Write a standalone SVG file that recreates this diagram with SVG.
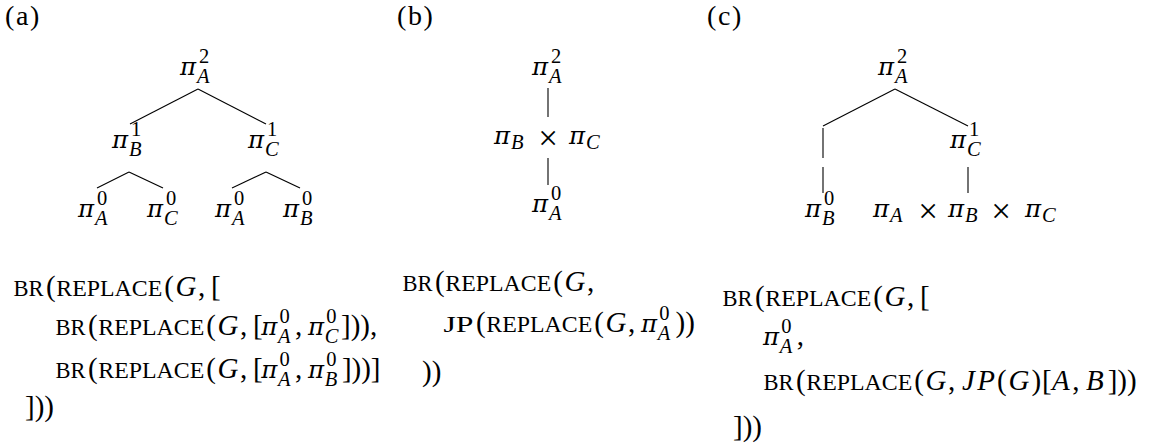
<svg xmlns="http://www.w3.org/2000/svg" width="1149" height="448" viewBox="0 0 1149 448">
<style>
  text { fill: #000; }
  .rm { font-family: "Liberation Serif", serif; font-size: 29px; }
  .lbl { font-family: "Liberation Serif", serif; font-size: 28px; letter-spacing: 1.6px; }
  .it { font-family: "Liberation Serif", serif; font-style: italic; font-size: 29px; }
  .pi { font-family: "DejaVu Serif", serif; font-style: italic; font-size: 24.5px; }
  .sup { font-family: "Liberation Serif", serif; font-size: 20.5px; }
  .sub { font-family: "Liberation Serif", serif; font-style: italic; font-size: 20.5px; }
  .tt { font-family: "Liberation Serif", serif; font-size: 24px; }
  .x { font-family: "Liberation Serif", serif; font-size: 35px; text-anchor: middle; }
  .edge { stroke: #000; stroke-width: 1.1; fill: none; }
</style>
<rect width="1149" height="448" fill="#fff"/>

<!-- panel labels -->
<text class="lbl" x="5" y="25">(a)</text>
<text class="lbl" x="397" y="25">(b)</text>
<text class="lbl" x="707" y="25">(c)</text>

<!-- connectors -->
<g id="connectors" class="edge">
  <line x1="198" y1="89" x2="130" y2="124"/>
  <line x1="198" y1="89" x2="266" y2="124"/>
  <line x1="129" y1="172" x2="97" y2="188"/>
  <line x1="129" y1="172" x2="163" y2="188"/>
  <line x1="266" y1="172" x2="232" y2="188"/>
  <line x1="266" y1="172" x2="300" y2="188"/>
  <line x1="548" y1="88" x2="548" y2="117"/>
  <line x1="548" y1="158" x2="548" y2="185"/>
  <line x1="895" y1="89" x2="823" y2="126"/>
  <line x1="895" y1="89" x2="968" y2="126"/>
  <line x1="823" y1="128" x2="823" y2="158"/>
  <line x1="823" y1="167" x2="823" y2="193"/>
  <line x1="968" y1="167" x2="968" y2="193"/>
</g>

<!-- tree (a) -->
<g id="a-root"><text class="pi" x="180" y="75">π</text><text class="sup" x="199" y="62.5">2</text><text class="sub" x="197" y="82.5">A</text></g>
<g id="a-B1"><text class="pi" x="112" y="148">π</text><text class="sup" x="131" y="135.5">1</text><text class="sub" x="129" y="155.5">B</text></g>
<g id="a-C1"><text class="pi" x="248" y="148">π</text><text class="sup" x="267" y="135.5">1</text><text class="sub" x="265" y="155.5">C</text></g>
<g id="a-A0-1"><text class="pi" x="78" y="217">π</text><text class="sup" x="97" y="204.5">0</text><text class="sub" x="95" y="224.5">A</text></g>
<g id="a-C0"><text class="pi" x="147" y="217">π</text><text class="sup" x="166" y="204.5">0</text><text class="sub" x="164" y="224.5">C</text></g>
<g id="a-A0-2"><text class="pi" x="215" y="217">π</text><text class="sup" x="234" y="204.5">0</text><text class="sub" x="232" y="224.5">A</text></g>
<g id="a-B0"><text class="pi" x="283" y="217">π</text><text class="sup" x="302" y="204.5">0</text><text class="sub" x="300" y="224.5">B</text></g>

<!-- tree (b) -->
<g id="b-root"><text class="pi" x="532" y="75">π</text><text class="sup" x="551" y="62.5">2</text><text class="sub" x="549" y="82.5">A</text></g>
<g id="b-mid"><text class="pi" x="494" y="144">π</text><text class="sub" x="511" y="149">B</text><text class="x" x="548" y="150">×</text><text class="pi" x="569" y="144">π</text><text class="sub" x="586" y="149">C</text></g>
<g id="b-leaf"><text class="pi" x="532" y="212">π</text><text class="sup" x="551" y="199.5">0</text><text class="sub" x="549" y="219.5">A</text></g>

<!-- tree (c) -->
<g id="c-root"><text class="pi" x="878" y="75">π</text><text class="sup" x="897" y="62.5">2</text><text class="sub" x="895" y="82.5">A</text></g>
<g id="c-C1"><text class="pi" x="950" y="148">π</text><text class="sup" x="969" y="135.5">1</text><text class="sub" x="967" y="155.5">C</text></g>
<g id="c-B0"><text class="pi" x="805" y="217">π</text><text class="sup" x="824" y="204.5">0</text><text class="sub" x="822" y="224.5">B</text></g>
<g id="c-prod"><text class="pi" x="873" y="217">π</text><text class="sub" x="890" y="222">A</text><text class="x" x="928" y="223">×</text><text class="pi" x="948" y="217">π</text><text class="sub" x="965" y="222">B</text><text class="x" x="1001" y="223">×</text><text class="pi" x="1025" y="217">π</text><text class="sub" x="1042" y="222">C</text></g>

<!-- code (a) -->
<g id="a-code">
  <g id="a-line1">
    <text class="tt" x="13.5" y="296" textLength="30" lengthAdjust="spacingAndGlyphs">BR</text>
    <text class="rm" x="46" y="296">(</text>
    <text class="tt" x="56.3" y="296" textLength="106" lengthAdjust="spacingAndGlyphs">REPLACE</text>
    <text class="rm" x="164.2" y="296">(</text>
    <text class="it" x="175.5" y="296">G</text>
    <text class="rm" x="197.9" y="296">,</text>
    <text class="rm" x="211" y="296">[</text>
  </g>
  <g id="a-line2">
    <text class="tt" x="55.5" y="335" textLength="30" lengthAdjust="spacingAndGlyphs">BR</text>
    <text class="rm" x="88" y="335">(</text>
    <text class="tt" x="98.3" y="335" textLength="106" lengthAdjust="spacingAndGlyphs">REPLACE</text>
    <text class="rm" x="206.2" y="335">(</text>
    <text class="it" x="217.5" y="335">G</text>
    <text class="rm" x="239.9" y="335">,</text>
    <text class="rm" x="253" y="335">[</text>
    <text class="pi" x="261.2" y="335">π</text><text class="sup" x="279.5" y="322.5">0</text><text class="sub" x="278" y="342.5">A</text>
    <text class="rm" x="294.9" y="335">,</text>
    <text class="pi" x="308" y="335">π</text><text class="sup" x="326.3" y="322.5">0</text><text class="sub" x="324.8" y="342.5">C</text>
    <text class="rm" x="341" y="335">])),</text>
  </g>
  <g id="a-line3">
    <text class="tt" x="55.5" y="378" textLength="30" lengthAdjust="spacingAndGlyphs">BR</text>
    <text class="rm" x="88" y="378">(</text>
    <text class="tt" x="98.3" y="378" textLength="106" lengthAdjust="spacingAndGlyphs">REPLACE</text>
    <text class="rm" x="206.2" y="378">(</text>
    <text class="it" x="217.5" y="378">G</text>
    <text class="rm" x="239.9" y="378">,</text>
    <text class="rm" x="253" y="378">[</text>
    <text class="pi" x="261.2" y="378">π</text><text class="sup" x="279.5" y="365.5">0</text><text class="sub" x="278" y="385.5">A</text>
    <text class="rm" x="294.9" y="378">,</text>
    <text class="pi" x="308" y="378">π</text><text class="sup" x="326.3" y="365.5">0</text><text class="sub" x="324.8" y="385.5">B</text>
    <text class="rm" x="341.9" y="378">]))]</text>
  </g>
  <text class="rm" x="25" y="416">]))</text>
</g>

<!-- code (b) -->
<g id="b-code">
  <g id="b-line1">
    <text class="tt" x="402.5" y="291" textLength="30" lengthAdjust="spacingAndGlyphs">BR</text>
    <text class="rm" x="435" y="291">(</text>
    <text class="tt" x="445.3" y="291" textLength="106" lengthAdjust="spacingAndGlyphs">REPLACE</text>
    <text class="rm" x="553.2" y="291">(</text>
    <text class="it" x="564.5" y="291">G</text>
    <text class="rm" x="586.9" y="291">,</text>
  </g>
  <g id="b-line2">
    <text class="tt" x="443.5" y="332" textLength="30" lengthAdjust="spacingAndGlyphs">JP</text>
    <text class="rm" x="476" y="332">(</text>
    <text class="tt" x="486.3" y="332" textLength="106" lengthAdjust="spacingAndGlyphs">REPLACE</text>
    <text class="rm" x="594.2" y="332">(</text>
    <text class="it" x="605.5" y="332">G</text>
    <text class="rm" x="627.9" y="332">,</text>
    <text class="pi" x="641" y="332">π</text><text class="sup" x="659.3" y="319.5">0</text><text class="sub" x="657.8" y="339.5">A</text>
    <text class="rm" x="675.5" y="332">))</text>
  </g>
  <text class="rm" x="422" y="381">))</text>
</g>

<!-- code (c) -->
<g id="c-code">
  <g id="c-line1">
    <text class="tt" x="722.5" y="306" textLength="30" lengthAdjust="spacingAndGlyphs">BR</text>
    <text class="rm" x="755" y="306">(</text>
    <text class="tt" x="765.3" y="306" textLength="106" lengthAdjust="spacingAndGlyphs">REPLACE</text>
    <text class="rm" x="873.2" y="306">(</text>
    <text class="it" x="884.5" y="306">G</text>
    <text class="rm" x="906.9" y="306">,</text>
    <text class="rm" x="920" y="306">[</text>
  </g>
  <g id="c-line2">
    <text class="pi" x="763" y="345">π</text><text class="sup" x="781.3" y="332.5">0</text><text class="sub" x="779.8" y="352.5">A</text>
    <text class="rm" x="796.7" y="345">,</text>
  </g>
  <g id="c-line3">
    <text class="tt" x="763.5" y="390" textLength="30" lengthAdjust="spacingAndGlyphs">BR</text>
    <text class="rm" x="796" y="390">(</text>
    <text class="tt" x="806.3" y="390" textLength="106" lengthAdjust="spacingAndGlyphs">REPLACE</text>
    <text class="rm" x="914.2" y="390">(</text>
    <text class="it" x="925.5" y="390">G</text>
    <text class="rm" x="947.9" y="390">,</text>
    <text class="it" x="962" y="390">J</text>
    <text class="it" x="977.3" y="390">P</text>
    <text class="rm" x="997" y="390">(</text>
    <text class="it" x="1008.5" y="390">G</text>
    <text class="rm" x="1031.5" y="390">)</text>
    <text class="rm" x="1042.1" y="390">[</text>
    <text class="it" x="1052" y="390">A</text>
    <text class="rm" x="1072.3" y="390">,</text>
    <text class="it" x="1086" y="390">B</text>
    <text class="rm" x="1107.7" y="390">]))</text>
  </g>
  <text class="rm" x="733" y="436">]))</text>
</g>
</svg>
